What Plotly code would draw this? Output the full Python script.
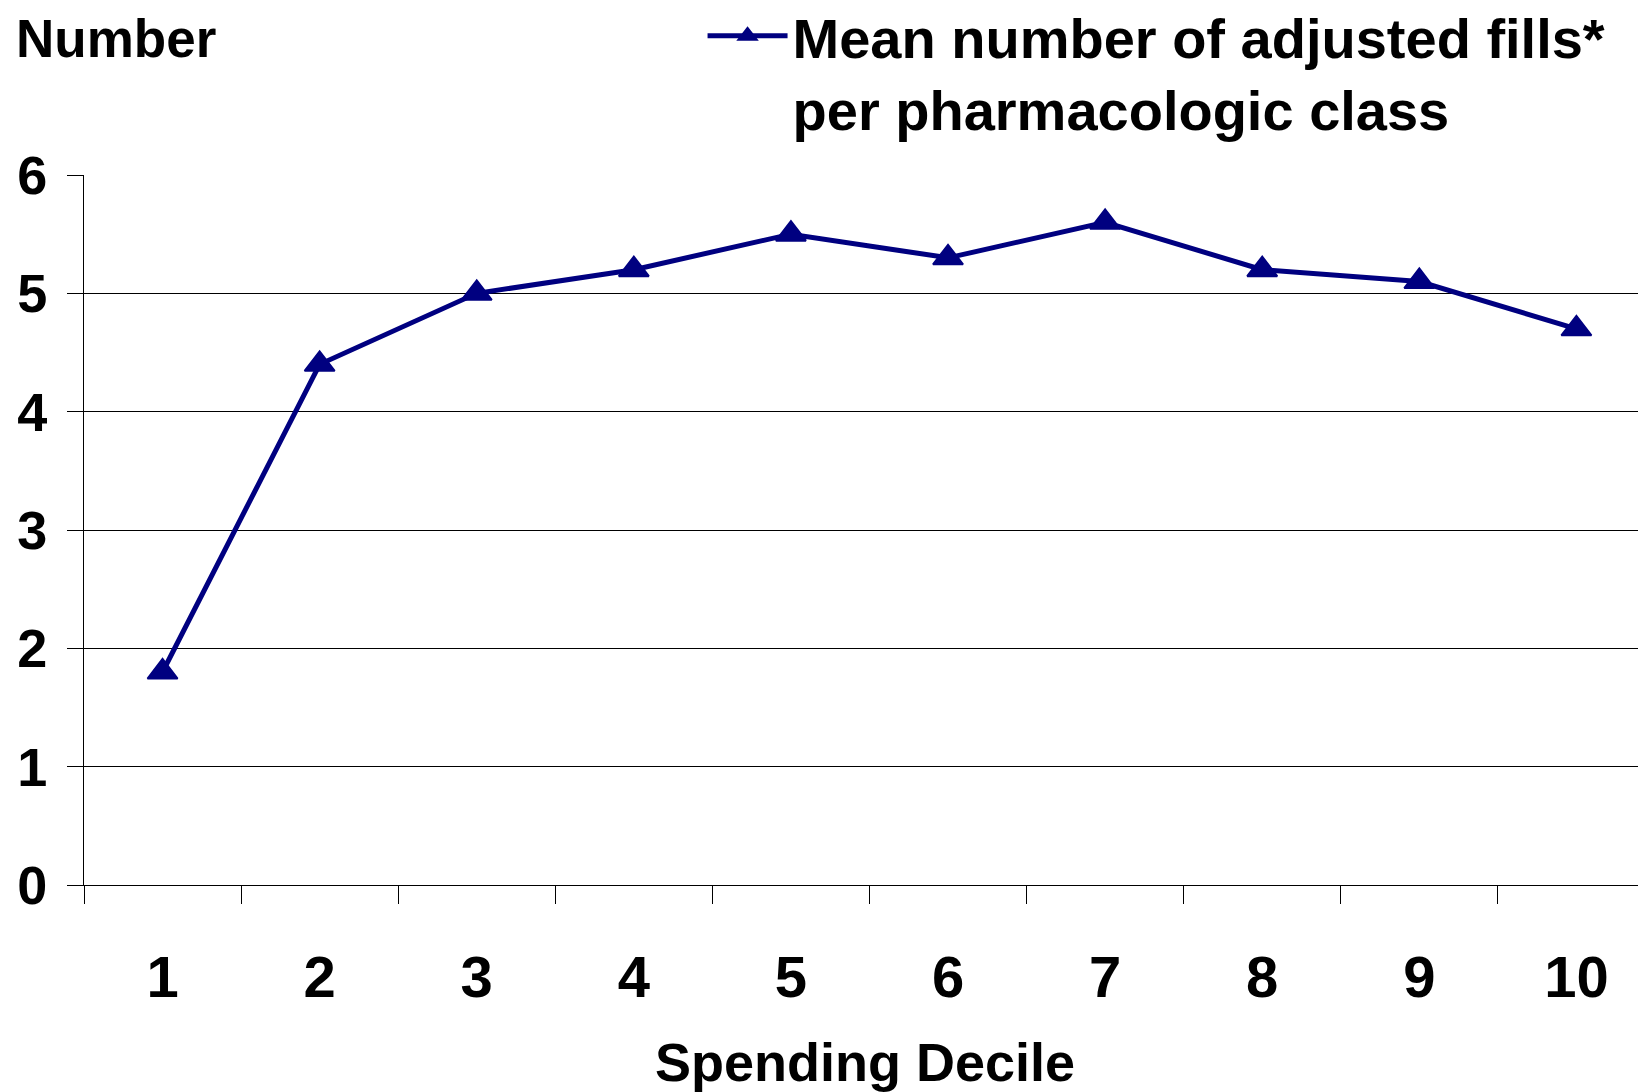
import plotly.graph_objects as go

deciles = ["1", "2", "3", "4", "5", "6", "7", "8", "9", "10"]
mean_fills = [1.8, 4.4, 5.0, 5.2, 5.5, 5.3, 5.6, 5.2, 5.1, 4.7]
y_ticks = [0, 1, 2, 3, 4, 5, 6]
series_name = "Mean number of adjusted fills*<br>per pharmacologic class"
y_label = "Number"
x_label = "Spending Decile"

FONT = "Liberation Sans, Arial, sans-serif"
NAVY = "#000080"

fig = go.Figure()
fig.add_trace(go.Scatter(
    x=deciles, y=mean_fills, name=series_name,
    mode="lines+markers",
    line=dict(color=NAVY, width=5),
    marker=dict(symbol="triangle-up", size=26, color=NAVY,
                line=dict(color=NAVY, width=2)),
))

# page body adds an 8px offset; figure is sized 8px smaller to compensate
fig.update_layout(
    width=1638, height=1084,
    margin=dict(l=76, r=0, t=167, b=207, autoexpand=False),
    plot_bgcolor="white", paper_bgcolor="white",
    font=dict(family=FONT, size=52, color="black", weight="bold"),
    showlegend=True,
    legend=dict(
        x=0.396, y=1.2565, xanchor="left", yanchor="top",
        xref="paper", yref="paper",
        font=dict(family=FONT, size=56, color="black", weight="bold"),
        bgcolor="rgba(0,0,0,0)", itemwidth=80, valign="top",
        tracegroupgap=0,
    ),
    xaxis=dict(
        type="category", range=[-0.5, 9.443],
        tickson="boundaries", ticks="outside", ticklen=18, tickwidth=1,
        tickcolor="black", showline=True, linecolor="black", linewidth=1,
        showgrid=False, zeroline=False,
        tickfont=dict(family=FONT, size=58, color="black", weight="bold"),
        ticklabelstandoff=41,
        title=dict(text=x_label, standoff=35,
                   font=dict(family=FONT, size=54, color="black", weight="bold")),
    ),
    yaxis=dict(
        range=[0, 6], tickvals=y_ticks, ticks="outside", ticklen=16,
        tickwidth=1, tickcolor="black", showline=True, linecolor="black",
        linewidth=1, showgrid=True, gridcolor="black", gridwidth=1,
        zeroline=False,
        tickfont=dict(family=FONT, size=54, color="black", weight="bold"),
        ticklabelstandoff=9,
    ),
    annotations=[dict(
        text=y_label, xref="paper", yref="paper",
        x=-0.045, y=1.237, xanchor="left", yanchor="top", showarrow=False,
        font=dict(family=FONT, size=53, color="black", weight="bold"),
    )],
)

fig.write_html("out.html")
